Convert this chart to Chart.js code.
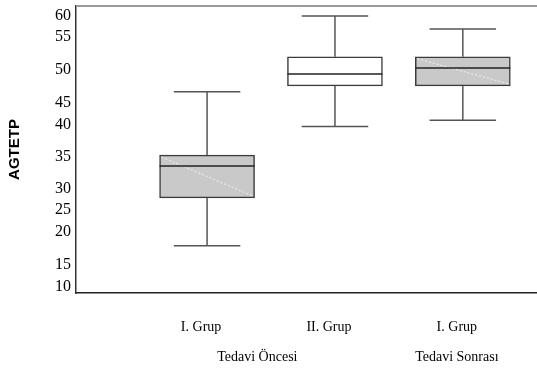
<!DOCTYPE html>
<html lang="tr">
<head>
  <meta charset="UTF-8" />
  <title>AGTETP</title>
  <script src="https://cdn.jsdelivr.net/npm/chart.js"></script>
  <style>
    body { margin: 0; background: #fff; }
    canvas { display: block; }
  </style>
</head>
<body>
  <canvas id="box-chart" width="537" height="374"></canvas>

  <script>
    // values (y axis is unevenly spaced in the original)
    const groups = ['I. Grup', 'II. Grup', 'I. Grup'];
    const periods = ['Tedavi Öncesi', 'Tedavi Sonrası'];
    const minVals = [17.9, 39.8, 41.1];
    const q1Vals = [27.9, 47.6, 47.6];
    const medianVals = [33.6, 49.4, 50.3];
    const q3Vals = [35.3, 52.0, 52.0];
    const maxVals = [46.7, 60.0, 56.9];
    const yTicks = [10, 15, 20, 25, 30, 35, 40, 45, 50, 55, 60];

    // where each tick sits as a fraction of the plot height (copied from the odd source axis)
    const tickFrac = [0.021, 0.098, 0.213, 0.289, 0.362, 0.474, 0.585, 0.662, 0.777, 0.892, 0.965];

    function warp(v) {
      let i = 0;
      if (v <= yTicks[0]) i = 0;
      else if (v >= yTicks[yTicks.length - 1]) i = yTicks.length - 2;
      else while (v > yTicks[i + 1]) i++;
      const t = (v - yTicks[i]) / (yTicks[i + 1] - yTicks[i]);
      return tickFrac[i] + t * (tickFrac[i + 1] - tickFrac[i]);
    }
    function unwarp(f) {
      let i = 0;
      if (f <= tickFrac[0]) i = 0;
      else if (f >= tickFrac[tickFrac.length - 1]) i = tickFrac.length - 2;
      else while (f > tickFrac[i + 1]) i++;
      const t = (f - tickFrac[i]) / (tickFrac[i + 1] - tickFrac[i]);
      return yTicks[i] + t * (yTicks[i + 1] - yTicks[i]);
    }

    class WarpScale extends Chart.LinearScale {
      buildTicks() {
        return yTicks.map(v => ({ value: v }));
      }
      getPixelForValue(value) {
        return this.getPixelForDecimal(warp(value));
      }
      getValueForPixel(pixel) {
        return unwarp(this.getDecimalForPixel(pixel));
      }
    }
    WarpScale.id = 'warp';
    WarpScale.defaults = Chart.LinearScale.defaults;
    Chart.register(WarpScale);

    const shaded = [true, false, true];
    const boxData = groups.map((g, i) => ({ x: i + 1, y: [q1Vals[i], q3Vals[i]] }));

    // whiskers, caps and medians drawn through the scales
    const boxPlugin = {
      id: 'boxParts',
      afterDatasetsDraw(chart) {
        const { ctx, chartArea, scales: { y } } = chart;
        const meta = chart.getDatasetMeta(0);
        const line = (x1, y1, x2, y2) => {
          ctx.beginPath(); ctx.moveTo(x1, y1); ctx.lineTo(x2, y2); ctx.stroke();
        };
        ctx.save();
        meta.data.forEach((bar, i) => {
          const cx = bar.x;
          const half = bar.width / 2;
          const cap = half * 0.7;
          const yMin = y.getPixelForValue(minVals[i]);
          const yQ1 = y.getPixelForValue(q1Vals[i]);
          const yMed = y.getPixelForValue(medianVals[i]);
          const yQ3 = y.getPixelForValue(q3Vals[i]);
          const yMax = y.getPixelForValue(maxVals[i]);

          if (shaded[i]) {
            ctx.setLineDash([2, 2]);
            ctx.strokeStyle = 'rgba(255,255,255,0.75)';
            ctx.lineWidth = 1;
            line(cx - half + 2, yQ3 + 2, cx + half - 2, yQ1 - 2);
            ctx.setLineDash([]);
          }

          ctx.strokeStyle = '#555';
          ctx.lineWidth = 1.5;
          line(cx, yMax, cx, yQ3);
          line(cx, yQ1, cx, yMin);
          line(cx - cap, yMax, cx + cap, yMax);
          line(cx - cap, yMin, cx + cap, yMin);

          ctx.strokeStyle = '#222';
          line(cx - half, yMed, cx + half, yMed);
        });

        // top frame line
        ctx.strokeStyle = '#999';
        ctx.lineWidth = 2;
        line(chartArea.left, chartArea.top, chartArea.right, chartArea.top);
        ctx.restore();
      }
    };

    const xLabels = {
      1: groups[0],
      1.44: ['', periods[0]],
      2: groups[1],
      3: [groups[2], periods[1]]
    };

    new Chart(document.getElementById('box-chart'), {
      type: 'bar',
      data: {
        datasets: [{
          data: boxData,
          backgroundColor: ['#c9c9c9', '#ffffff', '#c9c9c9'],
          borderColor: '#3c3c3c',
          borderWidth: 1.5,
          borderSkipped: false,
          barThickness: 95
        }]
      },
      options: {
        responsive: false,
        animation: false,
        devicePixelRatio: 1,
        layout: { padding: { top: 6, right: 0, left: 0, bottom: 0 } },
        plugins: {
          legend: { display: false },
          tooltip: { enabled: false }
        },
        scales: {
          x: {
            type: 'linear',
            offset: false,
            min: -0.025,
            max: 3.58,
            grid: { display: false, drawTicks: false },
            border: { display: true, color: '#222', width: 1.5 },
            afterBuildTicks(axis) {
              axis.ticks = Object.keys(xLabels).map(Number).sort((a, b) => a - b).map(v => ({ value: v }));
            },
            afterFit(axis) {
              axis.height = 81;
              axis.paddingLeft = 0;
              axis.paddingRight = 0;
            },
            ticks: {
              autoSkip: false,
              maxRotation: 0,
              padding: 19,
              labelOffset: -6,
              color: '#000',
              font: { family: 'Liberation Serif', size: 14, lineHeight: 2.14 },
              callback: (v) => xLabels[v]
            }
          },
          y: {
            type: 'warp',
            grid: { display: false, drawTicks: false },
            border: { display: true, color: '#333', width: 1.5 },
            afterFit(axis) {
              axis.width = 76;
              axis.paddingTop = 0;
              axis.paddingBottom = 0;
            },
            ticks: {
              autoSkip: false,
              padding: 5,
              color: '#000',
              font: { family: 'Liberation Serif', size: 16 },
              callback: (v) => String(v)
            },
            title: {
              display: true,
              text: 'AGTETP',
              color: '#000',
              padding: { top: 6, bottom: 0 },
              font: { family: 'Liberation Sans', size: 15, weight: 'bold' }
            }
          }
        }
      },
      plugins: [boxPlugin]
    });
  </script>
</body>
</html>
